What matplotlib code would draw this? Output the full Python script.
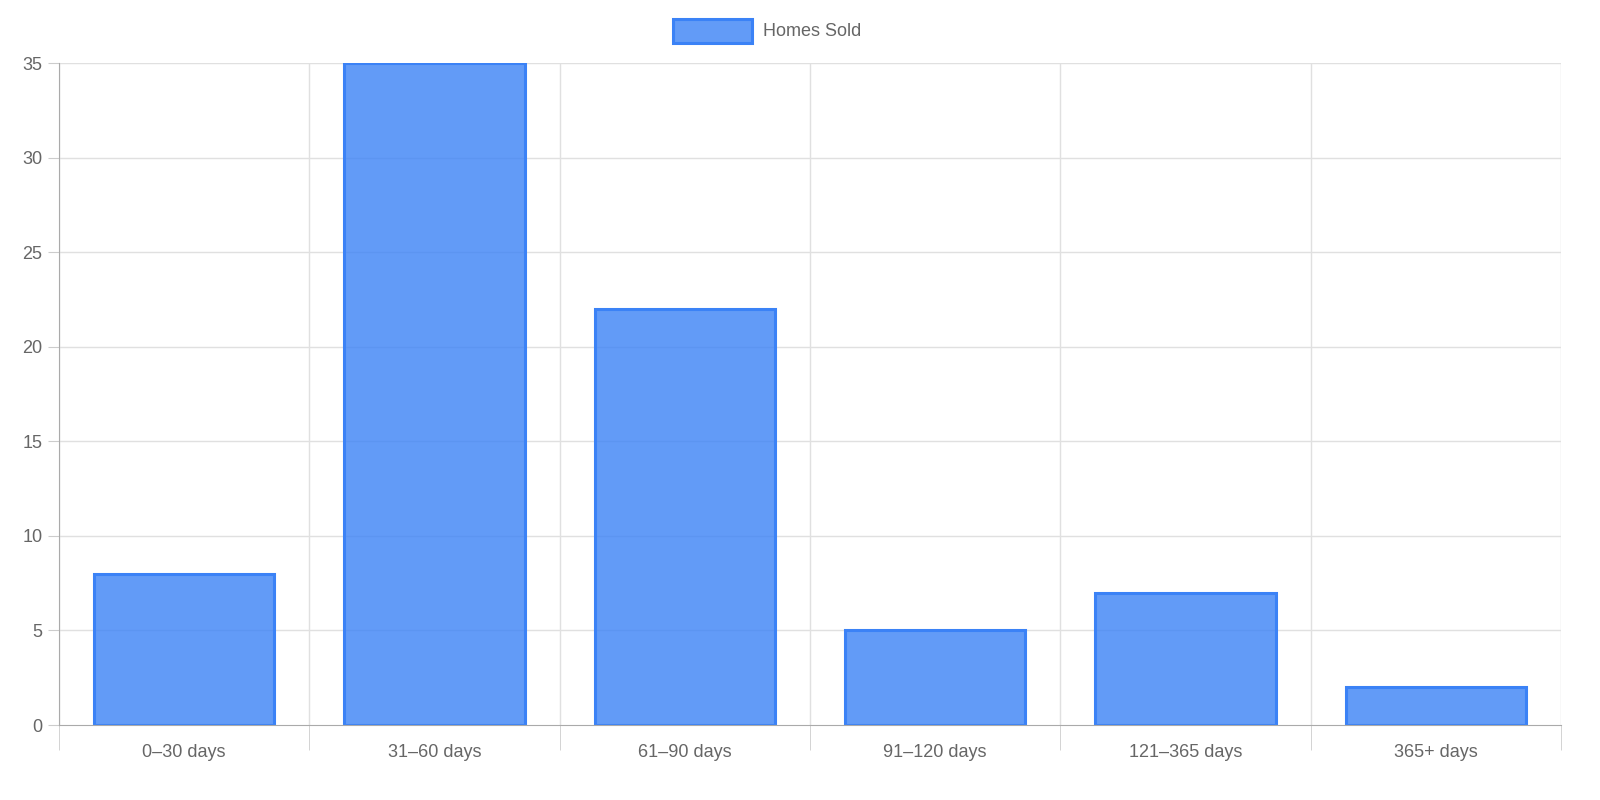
import matplotlib
matplotlib.use("Agg")
import matplotlib.pyplot as plt
from matplotlib.patches import Rectangle

categories = ["0–30 days", "31–60 days", "61–90 days", "91–120 days", "121–365 days", "365+ days"]
values = [8, 35, 22, 5, 7, 2]
series_name = "Homes Sold"

plt.rcParams['font.family'] = ['Liberation Sans', 'DejaVu Sans']
fig = plt.figure(figsize=(16, 8), dpi=100)
ax = fig.add_axes([59/1600, 1-725/800, (1561-59)/1600, (725-63)/800])

n = len(categories)
x = list(range(n))
ax.bar(x, values, width=0.72, color=(59/255, 130/255, 246/255, 0.8),
       edgecolor="#3b82f6", linewidth=2.2, zorder=3)
ax.set_xlim(-0.5, n - 0.5)
ax.set_ylim(0, 35)
ax.set_yticks(range(0, 36, 5))
ax.set_xticks(x)
ax.set_xticklabels(categories)
ax.set_xticks([i - 0.5 for i in range(n + 1)], minor=True)
ax.grid(False)
for yv in range(5, 36, 5):
    ax.axhline(yv, color="#e0e0e0", lw=1, zorder=0)
for i in range(n + 1):
    ax.axvline(i - 0.5, color="#e0e0e0", lw=1, zorder=0)
ax.tick_params(axis='x', which='major', length=0, pad=14, labelsize=13, colors="#666666")
ax.tick_params(axis='x', which='minor', length=18, color="#cccccc")
ax.tick_params(axis='y', length=8, color="#cccccc", labelsize=13, labelcolor="#666666", pad=4)
for s in ['top', 'right']:
    ax.spines[s].set_visible(False)
ax.spines['left'].set_color("#aaaaaa")
ax.spines['bottom'].set_color("#aaaaaa")
ax.spines['bottom'].set_zorder(4)

# legend
fig.patches.append(Rectangle((673/1600, 1-43/800), 79/1600, 24/800, transform=fig.transFigure,
                             facecolor=(59/255, 130/255, 246/255, 0.8), edgecolor="#3b82f6", lw=2.2))
fig.text(763/1600, 1-31/800, series_name, fontsize=13, color="#666666", va='center', ha='left')

fig.savefig("out.png", dpi=100)
